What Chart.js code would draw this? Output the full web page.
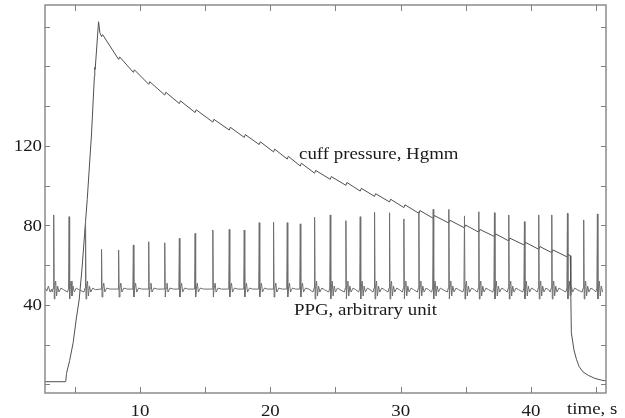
<!DOCTYPE html>
<html>
<head>
<meta charset="utf-8">
<script src="https://cdn.jsdelivr.net/npm/chart.js@4/dist/chart.umd.min.js"></script>
<style>
html,body{margin:0;padding:0;background:#fff;}
#wrap{width:625px;height:418px;position:relative;}
</style>
</head>
<body>
<div id="wrap"><canvas id="c" width="625" height="418"></canvas></div>
<script>
// ---- axis ticks and labels ----
const xTickValues = [5, 10, 15, 20, 25, 30, 35, 40, 45];
const xTickLabels = [10, 20, 30, 40];
const yTickValues = [0, 20, 40, 60, 80, 100, 120, 140, 160, 180];
const yTickLabels = [40, 80, 120];
const xAxisTitle = "time, s";
const cuffLabel = "cuff pressure, Hgmm";
const ppgLabel = "PPG, arbitrary unit";

// ---- cuff pressure (time s, Hgmm) ----
const cuffT = [2.71, 4.30, 4.36, 4.60, 4.87, 5.13, 5.33, 5.56, 5.75, 5.95, 6.28, 6.50, 6.53, 6.56, 6.82, 6.92,
  7.05, 7.13, 8.36, 8.44, 9.49, 9.57, 10.67, 10.75, 11.90, 11.98, 13.02, 13.10, 14.23, 14.31,
  15.59, 15.67, 16.85, 16.93, 18.00, 18.08, 19.15, 19.23, 20.25, 20.33, 21.30, 21.38, 22.30, 22.38,
  23.40, 23.48, 24.60, 24.68, 25.80, 25.88, 26.90, 26.98, 28.00, 28.08, 29.15, 29.23, 30.25, 30.33,
  31.40, 31.48, 32.50, 32.58, 33.70, 33.78, 34.90, 34.98, 36.00, 36.08, 37.20, 37.28, 38.30, 38.38,
  39.50, 39.58, 40.60, 40.68, 41.60, 41.68, 42.80, 42.88,
  43.02, 43.06, 43.10, 43.30, 43.50, 43.70, 44.00, 44.40, 44.90, 45.40, 45.76];
const cuffV = [1.4, 1.4, 5.6, 12.0, 21.0, 34.0, 42.5, 59.0, 76.0, 93.0, 126.0, 155.0, 159.5, 158.5, 182.5, 177.0,
  175.0, 176.0, 163.5, 164.8, 157.0, 158.3, 151.0, 152.3, 145.6, 147.0, 141.3, 142.7, 136.8, 138.2,
  132.0, 133.4, 128.0, 129.4, 124.3, 125.7, 120.7, 122.1, 117.0, 118.4, 113.4, 114.8, 109.9, 111.3,
  106.3, 107.7, 103.2, 104.6, 100.2, 101.6, 97.3, 98.7, 94.6, 96.0, 91.8, 93.2, 89.0, 90.4,
  86.1, 87.5, 83.6, 85.0, 81.2, 82.6, 78.8, 80.2, 76.6, 78.0, 74.4, 75.8, 72.2, 73.6,
  70.1, 71.5, 68.0, 69.4, 66.3, 67.7, 64.1, 65.4,
  64.8, 45.0, 26.0, 17.4, 12.5, 9.0, 6.3, 4.6, 3.1, 2.2, 1.8];

// ---- PPG (arbitrary unit) ----
const ppgLeadT = [2.71, 2.85, 2.97, 3.10, 3.22];
const ppgLeadV = [48.5, 47.0, 49.5, 46.5, 48.0];
const beatTimes = [3.38, 4.56, 5.82, 7.05, 8.36, 9.49, 10.67, 11.90, 13.02, 14.23, 15.59, 16.85, 18.00,
  19.15, 20.25, 21.30, 22.30, 23.40, 24.60, 25.80, 26.90, 28.00, 29.15, 30.25, 31.40, 32.50, 33.70,
  34.90, 36.00, 37.20, 38.30, 39.50, 40.60, 41.60, 42.80, 44.05, 45.10];
const beatPeaks = [85.3, 84.4, 83.3, 68.0, 67.7, 70.2, 71.8, 71.3, 73.5, 76.0, 77.7, 78.0, 77.7,
  81.4, 81.6, 81.4, 80.8, 84.1, 85.3, 82.4, 84.4, 86.6, 86.4, 83.3, 86.9, 88.1, 88.1,
  84.8, 86.9, 86.4, 85.3, 81.9, 85.3, 85.3, 86.1, 82.8, 85.8];
const beatShape = ["B","B","B","A","A","A","A","A","A","A","A","A","A","A","A","A","A",
  "B","B","B","B","B","B","B","B","B","B","B","B","B","B","B","B","B","B","B","B"];
const ppgBaseline = 48;
// beat waveform offsets (time after spike, deviation from baseline)
const waveA_dt = [-0.04, 0, 0.04, 0.10, 0.17, 0.25, 0.40, 0.65];
const waveA_dv = [0, null, -4.0, 0.5, 3.0, -1.5, 0.5, 0];
const waveB_dt = [-0.12, -0.04, 0, 0.04, 0.09, 0.15, 0.22, 0.30, 0.40, 0.55, 0.75];
const waveB_dv = [-1.5, 0.5, null, -5.0, 1.5, 4.0, -3.5, 1.5, -1.5, 0.5, -0.3];

// ---- build datasets ----
const cuffData = cuffT.map((t, i) => ({x: t, y: cuffV[i]}));
const ppgData = ppgLeadT.map((t, i) => ({x: t, y: ppgLeadV[i]}));
beatTimes.forEach((t0, i) => {
  const next = i + 1 < beatTimes.length ? beatTimes[i + 1] : 45.76;
  const dts = beatShape[i] === "A" ? waveA_dt : waveB_dt;
  const dvs = beatShape[i] === "A" ? waveA_dv : waveB_dv;
  dts.forEach((dt, k) => {
    const t = t0 + dt;
    if (dt > 0 && t >= next - 0.14) return;
    if (t > 45.76) return;
    ppgData.push({x: t, y: dvs[k] === null ? beatPeaks[i] : ppgBaseline + dvs[k]});
  });
});

const FONT = '17px "Liberation Serif", "Times New Roman", serif';
const STRETCH = 1.11;
function drawText(ctx, txt, x, y, align, base) {
  ctx.save();
  ctx.translate(x, y);
  ctx.scale(STRETCH, 1);
  ctx.textAlign = align;
  ctx.textBaseline = base;
  ctx.fillText(txt, 0, 0);
  ctx.restore();
}

const framePlugin = {
  id: 'frame',
  afterDraw(chart) {
    const ctx = chart.ctx;
    const a = chart.chartArea;
    const xs = chart.scales.x, ys = chart.scales.y;
    ctx.save();
    ctx.strokeStyle = '#8c8c8c';
    ctx.lineWidth = 1.5;
    ctx.strokeRect(a.left, a.top, a.right - a.left, a.bottom - a.top);
    ctx.lineWidth = 1;
    ctx.strokeStyle = '#808080';
    ctx.beginPath();
    xTickValues.forEach(v => {
      const p = Math.round(xs.getPixelForValue(v)) + 0.5;
      ctx.moveTo(p, a.bottom); ctx.lineTo(p, a.bottom - 6);
      ctx.moveTo(p, a.top); ctx.lineTo(p, a.top + 6);
    });
    yTickValues.forEach(v => {
      const p = Math.round(ys.getPixelForValue(v)) + 0.5;
      ctx.moveTo(a.left, p); ctx.lineTo(a.left + 5, p);
      ctx.moveTo(a.right, p); ctx.lineTo(a.right - 5, p);
    });
    ctx.stroke();
    ctx.fillStyle = '#1a1a1a';
    ctx.font = FONT;
    xTickLabels.forEach(v => drawText(ctx, String(v), xs.getPixelForValue(v), 416, 'center', 'alphabetic'));
    yTickLabels.forEach(v => drawText(ctx, String(v), 42, ys.getPixelForValue(v) + 1, 'right', 'middle'));
    drawText(ctx, xAxisTitle, 567, 413.5, 'left', 'alphabetic');
    drawText(ctx, cuffLabel, 299, 158.5, 'left', 'alphabetic');
    drawText(ctx, ppgLabel, 294, 315, 'left', 'alphabetic');
    ctx.restore();
  }
};

new Chart(document.getElementById('c'), {
  type: 'line',
  data: {
    datasets: [
      {label: ppgLabel, data: ppgData, borderColor: '#6e6e6e', borderWidth: 1, pointRadius: 0, tension: 0},
      {label: cuffLabel, data: cuffData, borderColor: '#505050', borderWidth: 1, pointRadius: 0, tension: 0}
    ]
  },
  options: {
    responsive: false,
    animation: false,
    events: [],
    layout: {padding: {left: 45, right: 19, top: 5, bottom: 25}},
    plugins: {legend: {display: false}, tooltip: {enabled: false}},
    scales: {
      x: {type: 'linear', min: 2.71, max: 45.76, display: false},
      y: {type: 'linear', min: -4.28, max: 190.9, display: false}
    }
  },
  plugins: [framePlugin]
});
</script>
</body>
</html>
